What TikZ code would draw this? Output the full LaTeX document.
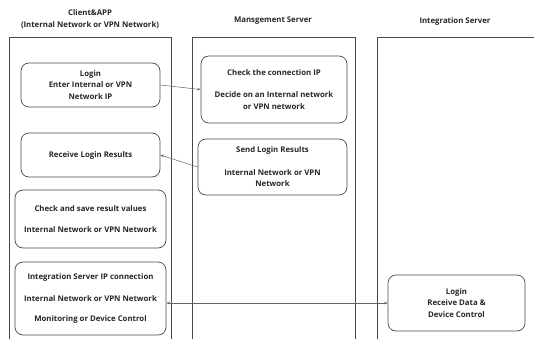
\documentclass[tikz,border=0pt]{standalone}
\usepackage{fontspec}
\newfontfamily\lblfont{Open Sans}
\usetikzlibrary{arrows.meta}
\definecolor{edge}{HTML}{4A4A4A}
\begin{document}
\begin{tikzpicture}[x=1pt,y=-1pt,
  every node/.style={font=\lblfont\bfseries\fontsize{7.8}{11.5}\selectfont, text=black!85},
  stepbox/.style={draw=edge, line width=0.7pt, rounded corners=8pt, align=center, inner sep=0pt},
  lane/.style={draw=edge, line width=0.6pt},
  flow/.style={draw=edge!85, line width=0.5pt, -{Stealth[length=3.5pt,width=2.6pt]}},
  biflow/.style={draw=edge!85, line width=0.5pt, {Stealth[length=3.5pt,width=2.6pt]}-{Stealth[length=3.5pt,width=2.6pt]}}]
\useasboundingbox (0,0) rectangle (534,339);
\clip (0,0) rectangle (534,339);

% swimlanes (open at the bottom)
\draw[lane] (9,345) -- (9,37) -- (171,37) -- (171,345);
\draw[lane] (192,345) -- (192,37) -- (355,37) -- (355,345);
\draw[lane] (377,345) -- (377,37) -- (540,37);

% lane titles
\node[align=center] (tclient) at (90,19) {Client\&APP\\(Internal Network or VPN Network)};
\node (tmgmt) at (273,21) {Mansgement Server};
\node (tint) at (455,21) {Integration Server};

% client lane
\node[stepbox, minimum width=139pt, minimum height=44pt] (login) at (90.5,85)
  {Login\\Enter Internal or VPN\\Network IP};
\node[stepbox, minimum width=139pt, minimum height=44pt] (recv) at (90.5,155)
  {Receive Login Results};
\node[stepbox, minimum width=151pt, minimum height=58pt] (save) at (90.5,219)
  {Check and save result values\\[10pt]Internal Network or VPN Network};
\node[stepbox, minimum width=151pt, minimum height=73pt] (intip) at (90.5,298.5)
  {Integration Server IP connection\\[10pt]Internal Network or VPN Network\\[9pt]Monitoring or Device Control};

% management server lane
\node[stepbox, minimum width=146pt, minimum height=67pt] (check) at (274,89.5)
  {Check the connection IP\\[11pt]Decide on an Internal network\\or VPN network};
\node[stepbox, minimum width=149pt, minimum height=56pt] (send) at (272.5,167)
  {Send Login Results\\[11pt]Internal Network or VPN\\Network};

% integration server lane
\node[stepbox, minimum width=137pt, minimum height=56pt] (ilogin) at (456.5,303)
  {Login\\Receive Data \&\\Device Control};

% message flows
\draw[flow] (login.east) -- (check.west);
\draw[flow] (send.west) -- (recv.east);
\draw[biflow] (ilogin.west) -- (ilogin.west -| intip.east);
\end{tikzpicture}
\end{document}
